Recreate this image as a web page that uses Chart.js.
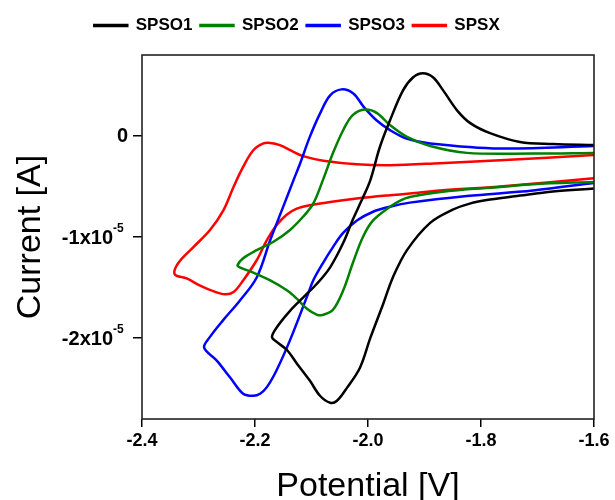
<!DOCTYPE html>
<html>
<head>
<meta charset="utf-8">
<script src="https://cdn.jsdelivr.net/npm/chart.js@4.4.0/dist/chart.umd.min.js"></script>
<style>
  html, body { margin: 0; padding: 0; background: #fff; }
  #wrap { width: 615px; height: 500px; }
</style>
</head>
<body>
<div id="wrap"><canvas id="cv"></canvas></div>
<script>
// potential in V, current in units of 1e-5 A
// each loop: start at -1.6 V, cathodic sweep, switch, anodic sweep back to -1.6 V
var spso1V = [-1.600,-1.673,-1.731,-1.784,-1.820,-1.850,-1.890,-1.931,-1.956,-1.973,-1.996,-2.014,-2.037,-2.055,-2.067,-2.085,-2.103,-2.126,-2.143,-2.161,-2.170,
              -2.161,-2.138,-2.115,-2.090,-2.067,-2.044,-2.027,-2.009,-1.996,-1.979,-1.961,-1.938,-1.920,-1.903,-1.885,-1.867,-1.842,-1.819,-1.784,-1.731,-1.673,-1.600];
var spso1I = [-0.52,-0.55,-0.59,-0.63,-0.67,-0.73,-0.86,-1.13,-1.40,-1.66,-2.00,-2.29,-2.49,-2.62,-2.64,-2.57,-2.42,-2.25,-2.12,-2.04,-1.99,
              -1.89,-1.73,-1.60,-1.46,-1.30,-1.06,-0.83,-0.61,-0.44,-0.11,0.155,0.45,0.58,0.62,0.58,0.45,0.25,0.126,0.027,-0.06,-0.08,-0.09];

var spso2V = [-1.600,-1.708,-1.766,-1.825,-1.885,-1.926,-1.943,-1.961,-1.991,-2.009,-2.027,-2.044,-2.062,-2.080,-2.090,-2.108,-2.126,-2.143,-2.173,-2.204,-2.227,-2.231,
              -2.221,-2.197,-2.168,-2.138,-2.115,-2.097,-2.080,-2.062,-2.044,-2.027,-2.005,-1.984,-1.961,-1.931,-1.890,-1.825,-1.708,-1.600];
var spso2I = [-0.455,-0.478,-0.505,-0.528,-0.565,-0.605,-0.64,-0.70,-0.836,-1.00,-1.26,-1.53,-1.72,-1.77,-1.77,-1.71,-1.61,-1.53,-1.43,-1.35,-1.30,-1.28,
              -1.21,-1.13,-1.05,-0.93,-0.80,-0.67,-0.44,-0.17,0.056,0.205,0.26,0.225,0.106,-0.01,-0.10,-0.168,-0.174,-0.168];

var spso3V = [-1.600,-1.708,-1.825,-1.926,-1.961,-1.991,-2.019,-2.044,-2.062,-2.080,-2.097,-2.108,-2.138,-2.162,-2.179,-2.191,-2.203,-2.221,-2.244,-2.268,-2.290,
              -2.280,-2.256,-2.227,-2.197,-2.173,-2.150,-2.132,-2.120,-2.103,-2.085,-2.067,-2.047,-2.026,-2.008,-1.985,-1.961,-1.932,-1.890,-1.766,-1.600];
var spso3I = [-0.465,-0.54,-0.595,-0.66,-0.70,-0.75,-0.835,-0.96,-1.10,-1.26,-1.43,-1.59,-2.02,-2.32,-2.485,-2.55,-2.57,-2.55,-2.39,-2.22,-2.095,
              -1.99,-1.82,-1.63,-1.40,-1.03,-0.70,-0.44,-0.27,-0.01,0.22,0.40,0.46,0.42,0.29,0.155,0.057,-0.026,-0.075,-0.125,-0.10];

var spsxV = [-1.600,-1.766,-1.873,-1.926,-1.961,-2.020,-2.067,-2.103,-2.126,-2.144,-2.162,-2.179,-2.197,-2.221,-2.238,-2.253,-2.274,-2.297,-2.321,-2.342,
             -2.336,-2.309,-2.280,-2.256,-2.238,-2.221,-2.203,-2.185,-2.173,-2.156,-2.132,-2.115,-2.079,-2.020,-1.961,-1.873,-1.766,-1.600];
var spsxI = [-0.42,-0.50,-0.54,-0.57,-0.587,-0.62,-0.653,-0.686,-0.72,-0.78,-0.884,-1.03,-1.23,-1.43,-1.545,-1.567,-1.535,-1.48,-1.41,-1.37,
             -1.26,-1.10,-0.934,-0.736,-0.505,-0.307,-0.142,-0.075,-0.07,-0.092,-0.158,-0.20,-0.245,-0.28,-0.29,-0.27,-0.24,-0.19];

var seriesNames = ['SPSO1', 'SPSO2', 'SPSO3', 'SPSX'];
var seriesColors = ['#000000', '#008000', '#0000ff', '#ff0000'];

var xTicks = [-2.4, -2.2, -2.0, -1.8, -1.6];
var yTicks = [-2, -1, 0];
var yExponent = '-5';

var FONT = '"Liberation Sans", Arial, sans-serif';
Chart.defaults.font.family = FONT;
Chart.defaults.color = '#000';

function toPoints(xs, ys) {
  var pts = [];
  for (var i = 0; i < xs.length; i++) pts.push({ x: xs[i], y: ys[i] });
  return pts;
}

var allV = [spso1V, spso2V, spso3V, spsxV];
var allI = [spso1I, spso2I, spso3I, spsxI];
var datasets = [];
for (var k = 0; k < seriesNames.length; k++) {
  datasets.push({
    label: seriesNames[k],
    data: toPoints(allV[k], allI[k]),
    borderColor: seriesColors[k],
    backgroundColor: seriesColors[k],
    borderWidth: 2.5,
    showLine: true,
    pointRadius: 0,
    tension: 0.35,
    fill: false
  });
}

// y tick labels with a raised exponent
var yLabels = {
  id: 'yLabels',
  afterDraw: function (chart) {
    var scale = chart.scales.y;
    var ctx = chart.ctx;
    ctx.save();
    ctx.fillStyle = '#000';
    ctx.textBaseline = 'middle';
    scale.ticks.forEach(function (t) {
      var y = scale.getPixelForValue(t.value) + 1;
      ctx.font = 'bold 20px ' + FONT;
      ctx.textAlign = 'right';
      if (t.value === 0) {
        ctx.fillText('0', scale.right - 14, y);
      } else {
        var base = scale.right - 29;
        ctx.fillText(t.value + 'x10', base, y);
        ctx.font = 'bold 12px ' + FONT;
        ctx.textAlign = 'left';
        ctx.fillText(yExponent, base, y - 9);
      }
    });
    ctx.restore();
  }
};

// box round the plot area
var frame = {
  id: 'frame',
  afterDraw: function (chart) {
    var a = chart.chartArea;
    var ctx = chart.ctx;
    ctx.save();
    ctx.strokeStyle = '#222';
    ctx.lineWidth = 1.6;
    ctx.strokeRect(a.left, a.top, a.right - a.left, a.bottom - a.top);
    ctx.restore();
  }
};

new Chart(document.getElementById('cv'), {
  type: 'scatter',
  data: { datasets: datasets },
  plugins: [yLabels, frame],
  options: {
    responsive: true,
    maintainAspectRatio: false,
    animation: false,
    layout: { padding: { left: 0, right: 21, top: 9, bottom: 0 } },
    plugins: {
      legend: {
        labels: {
          boxWidth: 33,
          boxHeight: 1,
          padding: 8,
          color: '#000',
          font: { size: 17, weight: 'bold' }
        }
      },
      // spacer between legend and plot
      title: { display: true, text: '', weight: 500, font: { size: 1, lineHeight: 1 }, padding: { top: 0, bottom: 10 } },
      tooltip: { enabled: false }
    },
    scales: {
      x: {
        type: 'linear',
        min: -2.4,
        max: -1.6,
        afterBuildTicks: function (s) { s.ticks = xTicks.map(function (v) { return { value: v }; }); },
        afterFit: function (s) { s.height = 81; },
        ticks: {
          callback: function (v) { return v.toFixed(1); },
          color: '#000',
          font: { size: 18, weight: 'bold' },
          padding: 3,
          maxRotation: 0,
          autoSkip: false
        },
        grid: { drawOnChartArea: false, drawTicks: true, tickLength: 8, color: '#000', lineWidth: 1.5 },
        border: { display: false },
        title: {
          display: true,
          text: 'Potential [V]',
          color: '#000',
          font: { size: 34, lineHeight: 1 },
          padding: { top: 0, bottom: -4 }
        }
      },
      y: {
        type: 'linear',
        min: -2.8,
        max: 0.8,
        afterBuildTicks: function (s) { s.ticks = yTicks.map(function (v) { return { value: v }; }); },
        afterFit: function (s) { s.width = 142; },
        ticks: { display: false },
        grid: { drawOnChartArea: false, drawTicks: true, tickLength: 9, color: '#000', lineWidth: 1.5 },
        border: { display: false },
        title: {
          display: true,
          text: 'Current [A]',
          color: '#000',
          font: { size: 34, lineHeight: 1 },
          padding: { top: 14, bottom: 0 }
        }
      }
    }
  }
});
</script>
</body>
</html>
